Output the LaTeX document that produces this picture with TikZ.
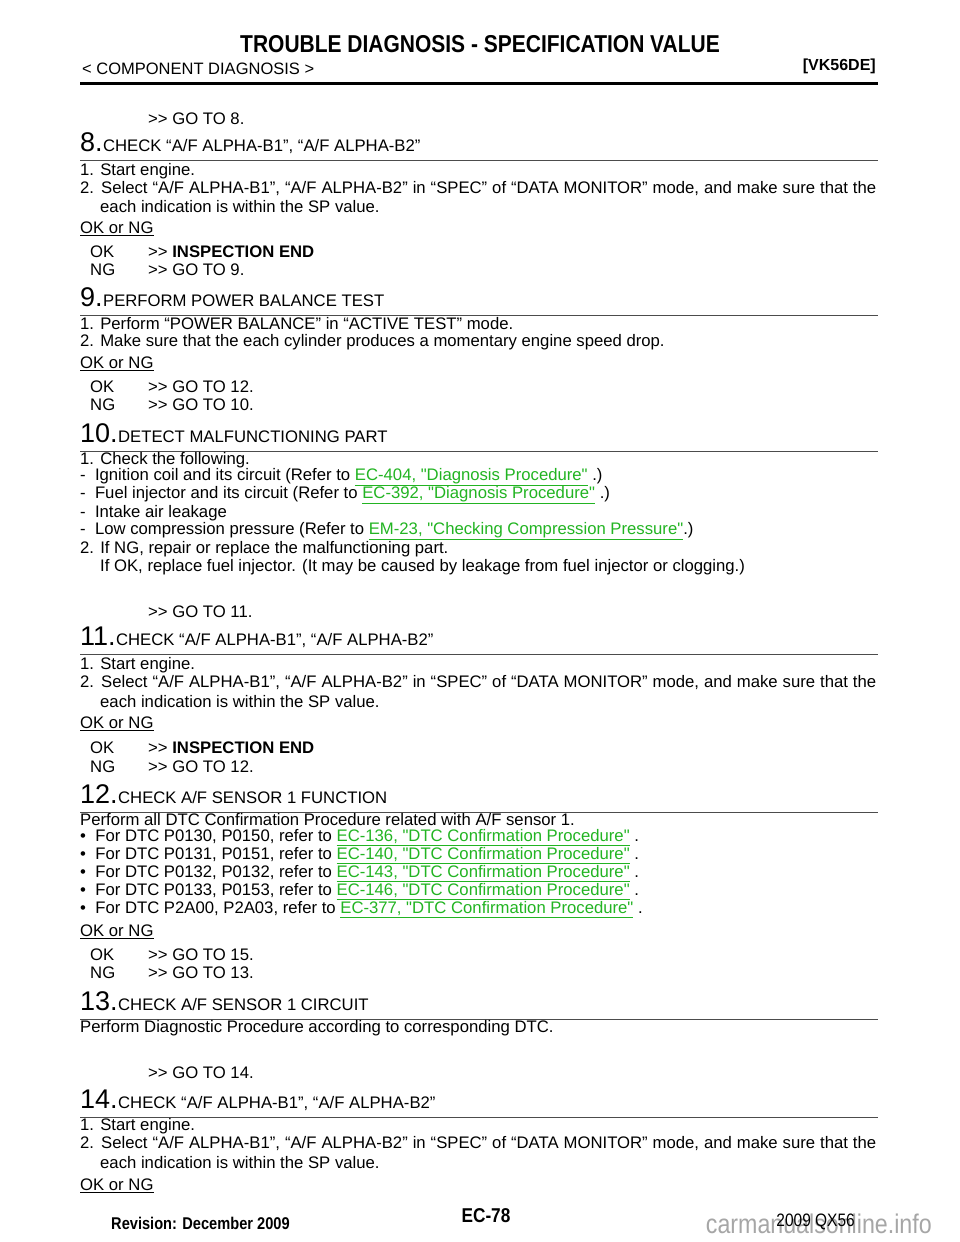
\documentclass[tikz,border=0pt]{standalone}
\usepackage{fontspec}
\setmainfont{Liberation Sans}[Ligatures=TeXOff]
\newfontfamily\narrow{Liberation Sans}[FakeStretch=0.86,Ligatures=TeXOff]
\usepackage{xcolor}
\definecolor{lnk}{HTML}{22B422}
\newcommand{\lk}[1]{\textcolor{lnk}{\underline{#1}}}
\begin{document}
\begin{tikzpicture}[x=1pt,y=-1pt,
  t/.style={anchor=west,inner sep=0pt,font=\fontsize{16.7}{18}\selectfont},
  num/.style={anchor=base west,inner sep=0pt,font=\fontsize{27}{28}\selectfont}]
\useasboundingbox[fill=white] (0,0) rectangle (960,1242);
\node[inner sep=0pt,font=\narrow\bfseries\fontsize{24.4}{26}\selectfont] (title) at (480,44) {TROUBLE DIAGNOSIS - SPECIFICATION VALUE};
\node[anchor=west,inner sep=0pt,font=\fontsize{16.5}{18}\selectfont] (sub) at (82,69) {< COMPONENT DIAGNOSIS >};
\node[anchor=east,inner sep=0pt,font=\bfseries\fontsize{16}{18}\selectfont] (vk) at (876,66) {[VK56DE]};
\draw[line width=3pt] (80,83) -- (878,83);
\newcommand{\stp}[3]{%
  \node[num] (n#1) at (80,#2+10) {#1.};
  \node[anchor=base west,inner sep=0pt,font=\fontsize{16.7}{18}\selectfont] (h#1) at (n#1.base east) {#3};
  \draw[line width=1pt,black!70] (80,#2+19) -- (878,#2+19);}
\newcommand{\tl}[3]{\node[t] at (#1,#2) {#3};}
\newcommand{\oknum}[1]{\tl{80}{#1}{\underline{OK or NG}}}
\newcommand{\res}[3]{\tl{90}{#1}{#2}\tl{148}{#1}{>> #3}}
\newcommand{\sel}[1]{\tl{80}{#1}{\makebox[796pt][s]{2. Select “A/F ALPHA-B1”, “A/F ALPHA-B2” in “SPEC” of “DATA MONITOR” mode, and make sure that the}}}
\tl{148}{119}{>> GO TO 8.}
\stp{8}{141}{CHECK “A/F ALPHA-B1”, “A/F ALPHA-B2”}
\tl{80}{171}{1. Start engine.}
\sel{189}
\tl{100}{207}{each indication is within the SP value.}
\oknum{229}
\res{252}{OK}{\textbf{INSPECTION END}}
\res{270}{NG}{GO TO 9.}
\stp{9}{296}{PERFORM POWER BALANCE TEST}
\tl{80}{324}{1. Perform “POWER BALANCE” in “ACTIVE TEST” mode.}
\tl{80}{342}{2. Make sure that the each cylinder produces a momentary engine speed drop.}
\oknum{364}
\res{387}{OK}{GO TO 12.}
\res{405}{NG}{GO TO 10.}
\stp{10}{432}{DETECT MALFUNCTIONING PART}
\tl{80}{460}{1. Check the following.}
\tl{80}{477}{-\ \ Ignition coil and its circuit (Refer to \lk{EC-404, "Diagnosis Procedure"} .)}
\tl{80}{495}{-\ \ Fuel injector and its circuit (Refer to \lk{EC-392, "Diagnosis Procedure"} .)}
\tl{80}{513}{-\ \ Intake air leakage}
\tl{80}{531}{-\ \ Low compression pressure (Refer to \lk{EM-23, "Checking Compression Pressure"}.)}
\tl{80}{549}{2. If NG, repair or replace the malfunctioning part.}
\tl{100}{567}{If OK, replace fuel injector. (It may be caused by leakage from fuel injector or clogging.)}
\tl{148}{612}{>> GO TO 11.}
\stp{11}{635}{CHECK “A/F ALPHA-B1”, “A/F ALPHA-B2”}
\tl{80}{665}{1. Start engine.}
\sel{683}
\tl{100}{702}{each indication is within the SP value.}
\oknum{724}
\res{748}{OK}{\textbf{INSPECTION END}}
\res{767}{NG}{GO TO 12.}
\stp{12}{793}{CHECK A/F SENSOR 1 FUNCTION}
\tl{80}{820}{Perform all DTC Confirmation Procedure related with A/F sensor 1.}
\tl{80}{838}{•\ \ For DTC P0130, P0150, refer to \lk{EC-136, "DTC Confirmation Procedure"} .}
\tl{80}{856}{•\ \ For DTC P0131, P0151, refer to \lk{EC-140, "DTC Confirmation Procedure"} .}
\tl{80}{874}{•\ \ For DTC P0132, P0132, refer to \lk{EC-143, "DTC Confirmation Procedure"} .}
\tl{80}{892}{•\ \ For DTC P0133, P0153, refer to \lk{EC-146, "DTC Confirmation Procedure"} .}
\tl{80}{910}{•\ \ For DTC P2A00, P2A03, refer to \lk{EC-377, "DTC Confirmation Procedure"} .}
\oknum{932}
\res{955}{OK}{GO TO 15.}
\res{973}{NG}{GO TO 13.}
\stp{13}{1000}{CHECK A/F SENSOR 1 CIRCUIT}
\tl{80}{1028}{Perform Diagnostic Procedure according to corresponding DTC.}
\tl{148}{1073}{>> GO TO 14.}
\stp{14}{1098}{CHECK “A/F ALPHA-B1”, “A/F ALPHA-B2”}
\tl{80}{1126}{1. Start engine.}
\sel{1144}
\tl{100}{1163}{each indication is within the SP value.}
\oknum{1186}
\node[anchor=west,inner sep=0pt,font=\narrow\bfseries\fontsize{17}{18}\selectfont] (rev) at (111,1223) {Revision: December 2009};
\node[inner sep=0pt,font=\narrow\bfseries\fontsize{20}{22}\selectfont] (pg) at (486,1216) {EC-78};
\node[anchor=east,inner sep=0pt,font=\narrow\fontsize{27}{28}\selectfont,text=black!35] (wm) at (932,1224) {carmanualsonline.info};
\node[anchor=east,inner sep=0pt,font=\narrow\fontsize{18}{20}\selectfont] (yr) at (855,1222) {2009 QX56};
\end{tikzpicture}
\end{document}
